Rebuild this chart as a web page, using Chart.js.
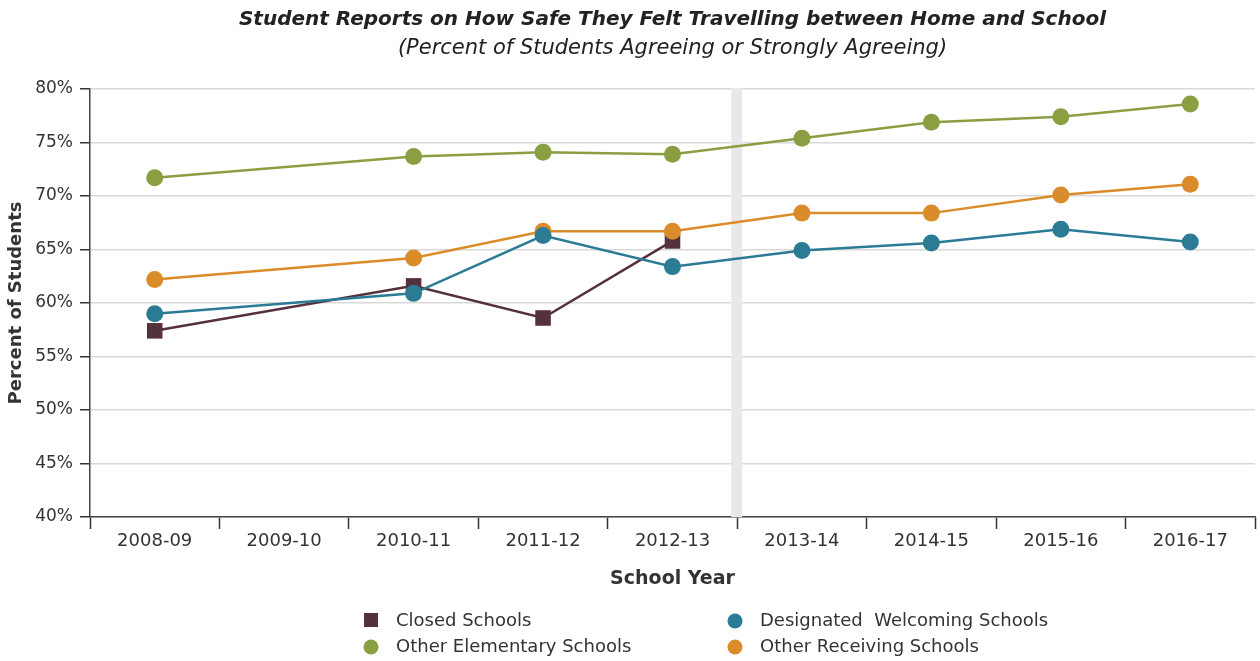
<!DOCTYPE html>
<html>
<head>
<meta charset="utf-8">
<script src="https://cdn.jsdelivr.net/npm/chart.js@4.4.0/dist/chart.umd.min.js"></script>
<style>
  html, body { margin: 0; padding: 0; background: #fff; }
  #wrap { width: 1260px; height: 661px; }
</style>
</head>
<body>
<div id="wrap"><canvas id="chart"></canvas></div>
<script>
const years = ['2008-09', '2009-10', '2010-11', '2011-12', '2012-13', '2013-14', '2014-15', '2015-16', '2016-17'];
const closedSchools = [57.4, null, 61.6, 58.6, 65.8, null, null, null, null];
const welcomingSchools = [59.0, null, 60.9, 66.3, 63.4, 64.9, 65.6, 66.9, 65.7];
const elementarySchools = [71.7, null, 73.7, 74.1, 73.9, 75.4, 76.9, 77.4, 78.6];
const receivingSchools = [62.2, null, 64.2, 66.7, 66.7, 68.4, 68.4, 70.1, 71.1];
const yTicks = [40, 45, 50, 55, 60, 65, 70, 75, 80];

const FONT = '"DejaVu Sans", sans-serif';
const TEXT = '#333333';

// grey band between 2012-13 and 2013-14
const bandPlugin = {
    id: 'band',
    beforeDatasetsDraw(chart) {
        const { ctx, chartArea: { top, bottom }, scales: { x } } = chart;
        const mid = (x.getPixelForValue(4) + x.getPixelForValue(5)) / 2;
        ctx.save();
        ctx.fillStyle = '#e8e8e8';
        ctx.fillRect(mid - 6, top - 1, 11, bottom - top + 1);
        ctx.restore();
    }
};

const titlePlugin = {
    id: 'titles',
    afterDraw(chart) {
        const { ctx, chartArea: { left, right } } = chart;
        const cx = (left + right) / 2;
        ctx.save();
        ctx.fillStyle = '#222';
        ctx.textAlign = 'center';
        ctx.textBaseline = 'middle';
        ctx.font = 'italic bold 20px ' + FONT;
        ctx.fillText('Student Reports on How Safe They Felt Travelling between Home and School', cx, 20);
        ctx.font = 'italic 21px ' + FONT;
        ctx.fillText('(Percent of Students Agreeing or Strongly Agreeing)', cx, 49);
        ctx.restore();
    }
};

const legendPlugin = {
    id: 'customLegend',
    afterDraw(chart) {
        const { ctx } = chart;
        const items = [
            { ds: 0, x: 371, y: 621 },
            { ds: 1, x: 735, y: 621 },
            { ds: 2, x: 371, y: 647 },
            { ds: 3, x: 735, y: 647 }
        ];
        ctx.save();
        ctx.font = '18px ' + FONT;
        ctx.textBaseline = 'middle';
        ctx.textAlign = 'left';
        items.forEach(it => {
            const d = chart.data.datasets[it.ds];
            ctx.fillStyle = d.backgroundColor;
            if (d.pointStyle === 'rect') {
                ctx.fillRect(it.x - 7, it.y - 8, 14, 14);
            } else {
                ctx.beginPath();
                ctx.arc(it.x, it.y, 7.5, 0, Math.PI * 2);
                ctx.fill();
            }
            ctx.fillStyle = TEXT;
            ctx.fillText(d.label, it.x + 25, it.y);
        });
        ctx.restore();
    }
};

function series(label, data, color, style, radius, order) {
    return {
        label: label,
        data: data,
        borderColor: color,
        backgroundColor: color,
        pointBackgroundColor: color,
        pointBorderWidth: 0,
        pointStyle: style,
        pointRadius: radius,
        pointHoverRadius: radius,
        borderWidth: 2.5,
        spanGaps: true,
        tension: 0,
        order: order
    };
}

new Chart(document.getElementById('chart'), {
    type: 'line',
    data: {
        labels: years,
        datasets: [
            series('Closed Schools', closedSchools, '#55303d', 'rect', 11, 4),
            series('Designated  Welcoming Schools', welcomingSchools, '#2c7b95', 'circle', 8.5, 2),
            series('Other Elementary Schools', elementarySchools, '#8a9e42', 'circle', 8.5, 1),
            series('Other Receiving Schools', receivingSchools, '#db8c2a', 'circle', 8.5, 3)
        ]
    },
    options: {
        responsive: true,
        maintainAspectRatio: false,
        animation: false,
        layout: {
            autoPadding: false,
            padding: { top: 89, right: 5, bottom: 71, left: 0 }
        },
        scales: {
            x: {
                offset: true,
                grid: {
                    offset: true,
                    drawOnChartArea: false,
                    drawTicks: true,
                    tickLength: 12,
                    tickColor: '#333',
                    tickWidth: 1.5
                },
                border: { color: '#444', width: 1.5 },
                ticks: { color: TEXT, font: { family: FONT, size: 18 }, padding: 2, maxRotation: 0 },
                title: {
                    display: true,
                    text: 'School Year',
                    color: TEXT,
                    font: { family: FONT, size: 19, weight: 'bold' },
                    padding: { top: 6, bottom: 0 }
                },
                afterFit(scale) { scale.height = 73; }
            },
            y: {
                min: 40,
                max: 80,
                afterBuildTicks(scale) { scale.ticks = yTicks.map(v => ({ value: v })); },
                grid: {
                    color: '#d9d9d9',
                    lineWidth: 1.5,
                    drawTicks: true,
                    tickLength: 10,
                    tickColor: '#333'
                },
                border: { color: '#444', width: 1.5 },
                ticks: {
                    color: TEXT,
                    font: { family: FONT, size: 17 },
                    padding: 7,
                    callback: v => v + '%'
                },
                title: {
                    display: true,
                    text: 'Percent of Students',
                    color: TEXT,
                    font: { family: FONT, size: 18, weight: 'bold' },
                    padding: { top: 6, bottom: 0 }
                },
                afterFit(scale) { scale.width = 90; }
            }
        },
        plugins: {
            legend: { display: false },
            tooltip: { enabled: false }
        }
    },
    plugins: [bandPlugin, titlePlugin, legendPlugin]
});
</script>
</body>
</html>
